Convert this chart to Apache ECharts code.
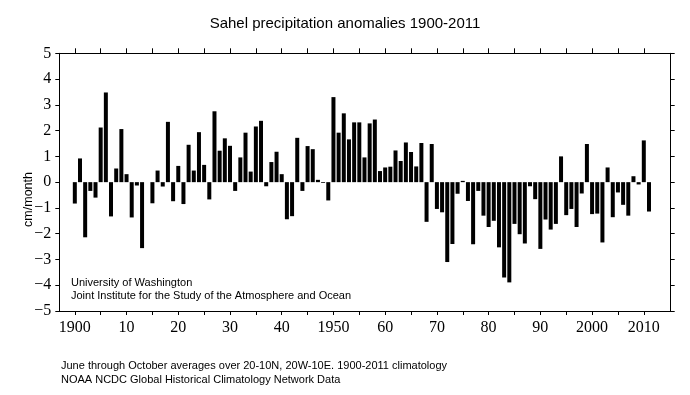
<!DOCTYPE html>
<html>
<head>
<meta charset="utf-8">
<script src="https://cdn.jsdelivr.net/npm/echarts@6/dist/echarts.min.js"></script>
<style>
html,body{margin:0;padding:0;background:#fff;}
#chart{width:690px;height:395px;}
</style>
</head>
<body>
<div id="chart"></div>
<script>
var startYear = 1900;
var anomalies = [
 -0.83, 0.92, -2.14, -0.34, -0.60, 2.12, 3.48, -1.33, 0.53, 2.06,
  0.31, -1.37, -0.13, -2.56, 0.00, -0.82, 0.45, -0.17, 2.34, -0.74,
  0.63, -0.85, 1.45, 0.45, 1.94, 0.67, -0.67, 2.75, 1.22, 1.70,
  1.41, -0.34, 0.96, 1.92, 0.41, 2.16, 2.38, -0.16, 0.78, 1.18,
  0.31, -1.44, -1.32, 1.72, -0.34, 1.40, 1.28, 0.09, -0.03, -0.71,
  3.30, 1.92, 2.67, 1.66, 2.32, 2.32, 0.96, 2.28, 2.43, 0.43,
  0.57, 0.60, 1.23, 0.82, 1.54, 1.17, 0.61, 1.52, -1.54, 1.48,
 -1.04, -1.17, -3.10, -2.40, -0.45, 0.05, -0.73, -2.41, -0.34, -1.30,
 -1.74, -1.50, -2.53, -3.70, -3.89, -1.62, -2.02, -2.38, -0.16, -0.66,
 -2.59, -1.45, -1.84, -1.62, 1.00, -1.28, -1.04, -1.74, -0.44, 1.48,
 -1.24, -1.22, -2.34, 0.57, -1.36, -0.40, -0.88, -1.30, 0.23, -0.09,
  1.62, -1.14
];
var years = anomalies.map(function(_, i){ return startYear + i; });
var xTickValues = [1900,1905,1910,1915,1920,1925,1930,1935,1940,1945,1950,1955,1960,1965,1970,1975,1980,1985,1990,1995,2000,2005,2010];
var xLabelValues = [1900,1910,1920,1930,1940,1950,1960,1970,1980,1990,2000,2010];
var xLabelTexts = ['1900','10','20','30','40','1950','60','70','80','90','2000','2010'];

var chart = echarts.init(document.getElementById('chart'), null, {renderer:'canvas'});
var serif = '"Liberation Serif","DejaVu Serif",serif';
var sans = '"Liberation Sans",Arial,sans-serif';
var xMin = 1897, xMax = 2015.2;

function axisLine(){ return {show:true, onZero:false, lineStyle:{color:'#000', width:1}}; }

var option = {
  animation:false,
  backgroundColor:'#fff',
  title:{
    text:'Sahel precipitation anomalies 1900-2011',
    left:'center', top:11,
    textStyle:{fontFamily:sans, fontSize:15, fontWeight:'normal', color:'#000'}
  },
  grid:{left:59.3, right:19.3, top:53.3, bottom:84, containLabel:false},
  xAxis:[
    {
      type:'value', position:'bottom', min:xMin, max:xMax,
      axisLine:axisLine(), splitLine:{show:false},
      axisTick:{show:true, inside:false, length:4, lineStyle:{color:'#000'}, customValues:xTickValues},
      axisLabel:{show:true, customValues:xLabelValues, margin:9, color:'#000', fontFamily:serif, fontSize:16,
        formatter:function(v){ var i = xLabelValues.indexOf(Math.round(v)); return i>=0 ? xLabelTexts[i] : ''; }}
    },
    {
      type:'value', position:'top', min:xMin, max:xMax,
      axisLine:axisLine(), splitLine:{show:false},
      axisTick:{show:true, inside:false, length:5, lineStyle:{color:'#000'}, customValues:xTickValues},
      axisLabel:{show:false}
    }
  ],
  yAxis:[
    {
      type:'value', position:'left', min:-5, max:5, interval:1,
      axisLine:axisLine(), splitLine:{show:false},
      axisTick:{show:true, inside:false, length:4, lineStyle:{color:'#000'}},
      axisLabel:{show:true, margin:8, color:'#000', fontFamily:serif, fontSize:16,
        formatter:function(v){ return v<0 ? '\u2212'+Math.abs(v) : String(v); }}
    },
    {
      type:'value', position:'right', min:-5, max:5, interval:1,
      axisLine:axisLine(), splitLine:{show:false},
      axisTick:{show:true, inside:false, length:4, lineStyle:{color:'#000'}},
      axisLabel:{show:false}
    }
  ],
  series:[{
    type:'bar',
    xAxisIndex:0, yAxisIndex:0,
    barWidth:4,
    itemStyle:{color:'#000'},
    data: years.map(function(y,i){ return [y, anomalies[i]]; })
  }],
  graphic:[
    {type:'text', left:22, top:172, rotation:Math.PI/2, originX:0, originY:0,
     style:{text:'cm/month', fill:'#000', font:'12.5px '+sans, textAlign:'center', textVerticalAlign:'middle', x:0, y:0}},
    {type:'text', left:71, top:277, style:{text:'University of Washington', fill:'#000', font:'11px '+sans}},
    {type:'text', left:71, top:290.5, style:{text:'Joint Institute for the Study of the Atmosphere and Ocean', fill:'#000', font:'11px '+sans}},
    {type:'text', left:61, top:360.5, style:{text:'June through October averages over 20-10N, 20W-10E. 1900-2011 climatology', fill:'#000', font:'11px '+sans}},
    {type:'text', left:61, top:374.5, style:{text:'NOAA NCDC Global Historical Climatology Network Data', fill:'#000', font:'11px '+sans}}
  ]
};
chart.setOption(option);
</script>
</body>
</html>
